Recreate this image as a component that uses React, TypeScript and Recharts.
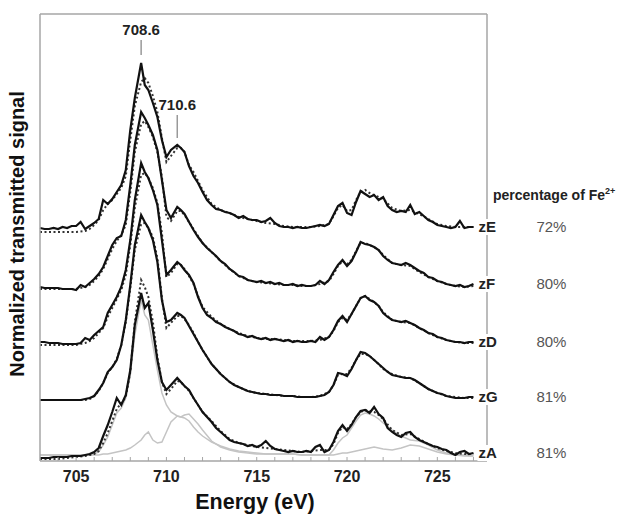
import { LineChart, Line, XAxis, YAxis, ReferenceLine } from 'recharts'

// measured spectra are sampled every 0.25 eV (plus the two L3 maxima)
const energyFine = [
  703, 703.25, 703.5, 703.75, 704, 704.25, 704.5, 704.75, 705, 705.25, 705.5,
  705.75, 706, 706.25, 706.5, 706.75, 707, 707.25, 707.5, 707.75, 708, 708.25,
  708.6, 708.8, 709, 709.25, 709.5, 709.75, 710, 710.25, 710.6, 710.8, 711, 711.25, 711.5, 711.75, 712,
  712.25, 712.5, 712.75, 713, 713.25, 713.5, 713.75, 714, 714.25, 714.5, 714.75, 715, 715.25, 715.5,
  715.75, 716, 716.25, 716.5, 716.75, 717, 717.25, 717.5, 717.75, 718, 718.25, 718.5, 718.75, 719,
  719.25, 719.5, 719.75, 720, 720.25, 720.5, 720.75, 721, 721.25, 721.5, 721.75, 722,
  722.25, 722.5, 722.75, 723, 723.25, 723.5, 723.75, 724, 724.25, 724.5, 724.75, 725, 725.25, 725.5,
  725.75, 726, 726.25, 726.5, 726.75, 727,
]

// fits and reference components are smooth, a coarser grid is enough
const energy = [
  703, 703.5, 704, 704.5, 705, 705.5,
  705.75, 706, 706.25, 706.5, 706.75, 707, 707.25, 707.5, 707.75, 708, 708.25,
  708.6, 708.8, 709, 709.25, 709.5, 709.75, 710, 710.25,
  710.6, 710.8, 711, 711.25, 711.5, 711.75, 712,
  712.5, 713, 713.5, 714, 714.5, 715, 715.5, 716, 716.5, 717, 717.5, 718, 718.5, 719,
  719.25, 719.5, 719.75, 720, 720.25, 720.5, 720.75, 721, 721.25, 721.5, 721.75, 722,
  722.5, 723, 723.5, 724, 724.5, 725, 725.5, 726, 726.5, 727,
]

// measured spectra (normalized, relative to each pre-edge)
const zE = [
  0, -0.01, -0.01, 0, -0.01, 0.01, 0, 0.02, 0.02, 0.06, -0.01,
  0.02, 0.05, 0.09, 0.28, 0.24, 0.29, 0.36, 0.43, 0.58, 0.98, 1.3,
  1.65, 1.43, 1.38, 1.25, 1.11, 0.88, 0.71, 0.78, 0.83, 0.8, 0.76, 0.62, 0.52, 0.45, 0.36,
  0.28, 0.23, 0.19, 0.18, 0.16, 0.15, 0.13, 0.1, 0.12, 0.09, 0.08, 0.08, 0.06, 0.07,
  0.1, 0.05, 0.02, 0.01, 0.01, 0, 0.01, 0, 0, 0.01, 0.02, 0.03, 0.02, 0.04,
  0.13, 0.22, 0.25, 0.15, 0.13, 0.26, 0.37, 0.34, 0.31, 0.33, 0.28, 0.31,
  0.22, 0.18, 0.16, 0.17, 0.16, 0.23, 0.14, 0.16, 0.12, 0.08, 0.06, 0.03, 0.02, 0.01,
  0, 0.01, 0.07, 0, 0.01, 0.01,
]
const zF = [
  0, -0.01, -0.01, -0.01, -0.01, -0.02, -0.02, -0.02, -0.03, 0.02, 0,
  0.04, 0.08, 0.13, 0.2, 0.31, 0.42, 0.49, 0.51, 0.67, 1.02, 1.42,
  1.75, 1.69, 1.62, 1.52, 1.37, 1.07, 0.77, 0.69, 0.8, 0.77, 0.73, 0.65, 0.57, 0.5, 0.44,
  0.39, 0.35, 0.31, 0.26, 0.23, 0.18, 0.15, 0.11, 0.1, 0.07, 0.06, 0.05, 0.06, 0.04,
  0.05, 0.03, 0.04, 0.02, 0.02, 0.03, 0.01, 0.02, 0.01, 0.01, 0.02, 0.06, 0.03, 0.07,
  0.15, 0.22, 0.27, 0.21, 0.26, 0.35, 0.45, 0.43, 0.42, 0.4, 0.37, 0.31,
  0.27, 0.24, 0.23, 0.22, 0.24, 0.22, 0.19, 0.16, 0.14, 0.1, 0.09, 0.06, 0.05, 0.03,
  0.02, 0.01, 0.02, 0, 0.01, 0.03,
]
const zD = [
  0.01, 0.01, 0, 0, 0, -0.01, -0.01, -0.01, -0.01, 0, 0.05,
  0.03, 0.08, 0.12, 0.16, 0.3, 0.38, 0.46, 0.56, 0.73, 1.03, 1.43,
  1.8, 1.71, 1.65, 1.53, 1.38, 1.03, 0.68, 0.73, 0.81, 0.78, 0.73, 0.68, 0.6, 0.46, 0.35,
  0.28, 0.25, 0.21, 0.19, 0.16, 0.14, 0.12, 0.09, 0.08, 0.06, 0.07, 0.05, 0.04, 0.05,
  0.03, 0.04, 0.03, 0.02, 0.03, 0.01, 0.02, 0.01, 0.01, 0.02, 0.01, 0.06, 0.03, 0.06,
  0.13, 0.22, 0.27, 0.21, 0.29, 0.37, 0.45, 0.47, 0.43, 0.41, 0.37, 0.3,
  0.26, 0.23, 0.22, 0.21, 0.22, 0.2, 0.18, 0.15, 0.13, 0.1, 0.09, 0.06, 0.05, 0.03,
  0.02, 0.01, 0.01, 0, 0.01, 0.01,
]
const zG = [
  0, 0, 0, 0, 0, 0, 0, 0, 0, 0, 0.01,
  0.02, 0.04, 0.1, 0.17, 0.28, 0.33, 0.4, 0.55, 0.8, 1.15, 1.55,
  1.85, 1.78, 1.72, 1.6, 1.38, 1.0, 0.78, 0.8, 0.87, 0.85, 0.82, 0.74, 0.66, 0.58, 0.5,
  0.43, 0.36, 0.31, 0.26, 0.22, 0.18, 0.15, 0.13, 0.11, 0.09, 0.08, 0.07, 0.06, 0.06,
  0.05, 0.05, 0.05, 0.04, 0.04, 0.04, 0.03, 0.03, 0.03, 0.03, 0.03, 0.04, 0.05, 0.08,
  0.15, 0.27, 0.26, 0.24, 0.31, 0.4, 0.48, 0.47, 0.44, 0.4, 0.36, 0.32,
  0.28, 0.25, 0.24, 0.23, 0.22, 0.22, 0.2, 0.17, 0.14, 0.11, 0.09, 0.07, 0.06, 0.04,
  0.03, 0.02, 0.02, 0.02, 0.03, 0.03,
]
const zA = [
  -0.01, -0.01, -0.01, 0, 0, 0, 0, 0.01, 0.01, 0.01, 0.02,
  0.03, 0.05, 0.09, 0.21, 0.32, 0.45, 0.59, 0.52, 0.62, 0.87, 1.32,
  1.64, 1.49, 1.54, 1.27, 0.97, 0.75, 0.67, 0.72, 0.79, 0.75, 0.71, 0.67, 0.59, 0.52, 0.45,
  0.4, 0.35, 0.29, 0.25, 0.21, 0.17, 0.15, 0.14, 0.13, 0.11, 0.12, 0.1, 0.12, 0.16,
  0.11, 0.08, 0.07, 0.06, 0.05, 0.06, 0.05, 0.05, 0.06, 0.05, 0.1, 0.12, 0.05, 0.07,
  0.15, 0.26, 0.32, 0.26, 0.32, 0.4, 0.46, 0.47, 0.44, 0.5, 0.43, 0.39,
  0.29, 0.25, 0.22, 0.2, 0.24, 0.25, 0.2, 0.17, 0.15, 0.13, 0.11, 0.1, 0.08, 0.07,
  0.04, 0.02, 0.05, 0.06, 0.03, 0.04,
]

// linear-combination fits (dotted)
const zEfit = [
  -0.04, -0.04, -0.04, -0.04, -0.04, -0.03,
  -0.01, 0.03, 0.08, 0.18, 0.24, 0.28, 0.34, 0.4, 0.52, 0.88, 1.22,
  1.46, 1.5, 1.45, 1.32, 1.16, 0.9, 0.66, 0.72,
  0.8, 0.8, 0.76, 0.63, 0.56, 0.47, 0.38,
  0.24, 0.18, 0.15, 0.11, 0.09, 0.07, 0.05, 0.04, 0.02, 0.01, 0.01, 0.01, 0.02, 0.04,
  0.12, 0.2, 0.23, 0.17, 0.18, 0.28, 0.36, 0.38, 0.35, 0.33, 0.31, 0.29,
  0.2, 0.17, 0.18, 0.14, 0.09, 0.04, 0.02, 0.01, 0.01, 0.01,
]
const zFfit = [
  -0.02, -0.02, -0.02, -0.02, -0.02, 0,
  0.02, 0.06, 0.11, 0.18, 0.28, 0.38, 0.46, 0.52, 0.62, 0.95, 1.35,
  1.63, 1.66, 1.6, 1.5, 1.35, 1.1, 0.7, 0.66,
  0.76, 0.76, 0.72, 0.65, 0.58, 0.51, 0.44,
  0.35, 0.26, 0.18, 0.11, 0.07, 0.05, 0.04, 0.03, 0.02, 0.02, 0.01, 0.01, 0.03, 0.06,
  0.13, 0.21, 0.26, 0.23, 0.27, 0.36, 0.44, 0.44, 0.42, 0.4, 0.37, 0.32,
  0.24, 0.22, 0.21, 0.15, 0.1, 0.06, 0.03, 0.01, 0, 0.01,
]
const zDfit = [
  -0.02, -0.02, -0.02, -0.02, -0.02, 0,
  0.02, 0.05, 0.1, 0.15, 0.26, 0.35, 0.44, 0.53, 0.68, 0.98, 1.35,
  1.68, 1.7, 1.65, 1.55, 1.4, 1.1, 0.66, 0.7,
  0.79, 0.78, 0.74, 0.67, 0.59, 0.47, 0.36,
  0.26, 0.19, 0.14, 0.1, 0.07, 0.05, 0.04, 0.04, 0.03, 0.02, 0.02, 0.02, 0.03, 0.06,
  0.12, 0.21, 0.25, 0.23, 0.29, 0.37, 0.45, 0.47, 0.44, 0.41, 0.37, 0.31,
  0.23, 0.21, 0.2, 0.15, 0.1, 0.06, 0.03, 0.01, 0, 0,
]
const zGfit = [
  0, 0, 0, 0, 0, 0,
  0.01, 0.04, 0.09, 0.17, 0.27, 0.33, 0.41, 0.55, 0.78, 1.12, 1.5,
  1.76, 1.77, 1.72, 1.63, 1.42, 1.02, 0.72, 0.77,
  0.84, 0.84, 0.81, 0.75, 0.67, 0.58, 0.5,
  0.36, 0.26, 0.18, 0.13, 0.09, 0.07, 0.06, 0.05, 0.04, 0.04, 0.03, 0.03, 0.04, 0.08,
  0.15, 0.25, 0.26, 0.26, 0.32, 0.4, 0.46, 0.46, 0.44, 0.4, 0.36, 0.31,
  0.26, 0.23, 0.22, 0.17, 0.11, 0.07, 0.04, 0.03, 0.02, 0.02,
]
const zAfit = [
  -0.02, -0.02, -0.02, -0.01, 0, 0.01,
  0.02, 0.03, 0.06, 0.14, 0.24, 0.36, 0.48, 0.54, 0.6, 0.85, 1.35,
  1.77, 1.7, 1.6, 1.35, 1.0, 0.75, 0.63, 0.68,
  0.76, 0.75, 0.71, 0.66, 0.59, 0.52, 0.45,
  0.36, 0.26, 0.18, 0.14, 0.12, 0.1, 0.09, 0.08, 0.07, 0.06, 0.05, 0.06, 0.07, 0.07,
  0.13, 0.24, 0.3, 0.28, 0.33, 0.4, 0.45, 0.47, 0.46, 0.45, 0.42, 0.38,
  0.27, 0.22, 0.23, 0.18, 0.13, 0.09, 0.06, 0.04, 0.03, 0.03,
]

// Fe2+ and Fe3+ reference components under zA (grey)
const fe2 = [
  0.02, 0.02, 0.02, 0.02, 0.02, 0.02,
  0.02, 0.03, 0.05, 0.12, 0.2, 0.32, 0.44, 0.49, 0.59, 0.82, 1.22,
  1.57, 1.42, 1.37, 1.12, 0.87, 0.64, 0.52, 0.45,
  0.41, 0.4, 0.39, 0.36, 0.3, 0.25, 0.21,
  0.15, 0.11, 0.08, 0.06, 0.05, 0.04, 0.03, 0.03, 0.03, 0.03, 0.02, 0.02, 0.02, 0.02,
  0.07, 0.14, 0.19, 0.22, 0.29, 0.36, 0.42, 0.44, 0.43, 0.41, 0.38, 0.34,
  0.27, 0.21, 0.17, 0.16, 0.12, 0.07, 0.04, 0.02, 0.02, 0.01,
]
const fe3 = [
  0.02, 0.02, 0.02, 0.02, 0.02, 0.02,
  0.02, 0.02, 0.02, 0.03, 0.03, 0.04, 0.05, 0.06, 0.07, 0.09, 0.12,
  0.17, 0.22, 0.25, 0.17, 0.14, 0.15, 0.25, 0.35,
  0.41, 0.4, 0.42, 0.43, 0.38, 0.33, 0.27,
  0.16, 0.1, 0.07, 0.05, 0.04, 0.03, 0.03, 0.03, 0.03, 0.03, 0.02, 0.02, 0.02, 0.02,
  0.02, 0.03, 0.04, 0.04, 0.05, 0.06, 0.07, 0.08, 0.09, 0.1, 0.09, 0.08,
  0.07, 0.09, 0.12, 0.11, 0.08, 0.05, 0.03, 0.02, 0.01, 0.01,
]

const samples = ['zE', 'zF', 'zD', 'zG', 'zA']
const offsets = [2.33, 1.74, 1.18, 0.61, 0.04]
const fe2Share = ['72%', '80%', '80%', '81%', '81%']
const measured = [zE, zF, zD, zG, zA]
const fitted = [zEfit, zFfit, zDfit, zGfit, zAfit]

const xTicks = [
  704, 705, 706, 707, 708, 709, 710, 711, 712, 713, 714, 715, 716,
  717, 718, 719, 720, 721, 722, 723, 724, 725, 726, 727,
]
const peaks = [
  { e: 708.6, from: 4.06, to: 4.21 },
  { e: 710.6, from: 3.23, to: 3.46 },
]

const measuredRows = measured.map((ys, k) => energyFine.map((e, i) => ({ e, v: ys[i] + offsets[k] })))
const fitRows = fitted.map((ys, k) => energy.map((e, i) => ({ e, v: ys[i] + offsets[k] })))
const fe2Rows = energy.map((e, i) => ({ e, v: fe2[i] + offsets[4] }))
const fe3Rows = energy.map((e, i) => ({ e, v: fe3[i] + offsets[4] }))

const frame = '#a6a6a6'
const last = energyFine.length - 1

const EnergyTick = ({ x, y, payload }: any) => (
  <g>
    <line x1={x} x2={x} y1={y} y2={y - 4} stroke={frame} strokeWidth={1} />
    {payload.value % 5 === 0 && (
      <text x={x} y={y + 21} textAnchor="middle" fontSize={16} fontWeight="bold" fill="#222">
        {payload.value}
      </text>
    )}
  </g>
)

// sample name at the end of each trace, with its Fe2+ share further right
const endLabel = (name: string, share: string) => (p: any) => {
  if (p.index !== last) return null
  const x = p.x + 5
  return (
    <g key={name}>
      <rect x={x - 1} y={p.y - 8} width={22} height={16} fill="#fff" />
      <text x={x} y={p.y + 5} fontSize={15} fontWeight="bold" fill="#222">
        {name}
      </text>
      <text x={x + 73} y={p.y + 5} fontSize={15} textAnchor="middle" fill="#555">
        {share}
      </text>
    </g>
  )
}

export default function App() {
  return (
    <div
      style={{
        position: 'absolute',
        left: 0,
        top: 0,
        width: 633,
        height: 514,
        background: '#fff',
        fontFamily: '"Liberation Sans", Arial, sans-serif',
        overflow: 'hidden',
      }}
    >
      <LineChart width={633} height={514} margin={{ top: 13, right: 145, bottom: 23, left: 39 }}>
        <XAxis
          dataKey="e"
          type="number"
          domain={[703, 727.75]}
          ticks={xTicks}
          interval={0}
          height={30}
          tickSize={0}
          tickMargin={0}
          tickLine={false}
          tick={<EnergyTick />}
          axisLine={{ stroke: frame, strokeWidth: 1.5 }}
        />
        <XAxis
          xAxisId="top"
          orientation="top"
          dataKey="e"
          type="number"
          domain={[703, 727.75]}
          height={1}
          tick={false}
          tickLine={false}
          axisLine={{ stroke: frame, strokeWidth: 1.5 }}
        />
        <YAxis
          type="number"
          domain={[0, 4.47]}
          width={1}
          tick={false}
          tickLine={false}
          axisLine={{ stroke: frame, strokeWidth: 1.5 }}
        />
        <YAxis
          yAxisId="right"
          orientation="right"
          type="number"
          domain={[0, 4.47]}
          width={1}
          tick={false}
          tickLine={false}
          axisLine={{ stroke: frame, strokeWidth: 1.5 }}
        />

        <Line data={fe2Rows} dataKey="v" name="Fe2+" type="linear" stroke="#c4c4c4" strokeWidth={1.5} dot={false} isAnimationActive={false} />
        <Line data={fe3Rows} dataKey="v" name="Fe3+" type="linear" stroke="#c4c4c4" strokeWidth={1.5} dot={false} isAnimationActive={false} />

        {samples.map((s, k) => (
          <Line
            key={s + 'fit'}
            name={s + ' fit'}
            data={fitRows[k]}
            dataKey="v"
            type="linear"
            stroke="#333"
            strokeWidth={2}
            strokeDasharray="2 2.5"
            dot={false}
            isAnimationActive={false}
          />
        ))}
        {samples.map((s, k) => (
          <Line
            key={s}
            name={s}
            data={measuredRows[k]}
            dataKey="v"
            type="linear"
            stroke="#111"
            strokeWidth={2.2}
            dot={false}
            isAnimationActive={false}
            label={endLabel(s, fe2Share[k])}
          />
        ))}

        {peaks.map((p) => (
          <ReferenceLine
            key={p.e}
            segment={[
              { x: p.e, y: p.from },
              { x: p.e, y: p.to },
            ]}
            stroke="#999"
            strokeWidth={1.5}
            label={{ value: p.e.toFixed(1), position: 'top', fill: '#222', fontSize: 15, fontWeight: 'bold' }}
          />
        ))}
      </LineChart>

      <div
        style={{
          position: 'absolute',
          left: 17,
          top: 234,
          transform: 'translate(-50%, -50%) rotate(-90deg)',
          whiteSpace: 'nowrap',
          fontSize: 20,
          fontWeight: 'bold',
          color: '#111',
          lineHeight: 1,
        }}
      >
        Normalized transmitted signal
      </div>
      <div
        style={{
          position: 'absolute',
          left: 255,
          top: 503,
          transform: 'translate(-50%, -50%)',
          whiteSpace: 'nowrap',
          fontSize: 21.5,
          fontWeight: 'bold',
          color: '#111',
          lineHeight: 1,
        }}
      >
        Energy (eV)
      </div>
      <div
        style={{
          position: 'absolute',
          left: 493,
          top: 187,
          whiteSpace: 'nowrap',
          fontSize: 14,
          fontWeight: 'bold',
          color: '#222',
          lineHeight: 1,
        }}
      >
        percentage of Fe<sup style={{ fontSize: 9 }}>2+</sup>
      </div>
    </div>
  )
}
